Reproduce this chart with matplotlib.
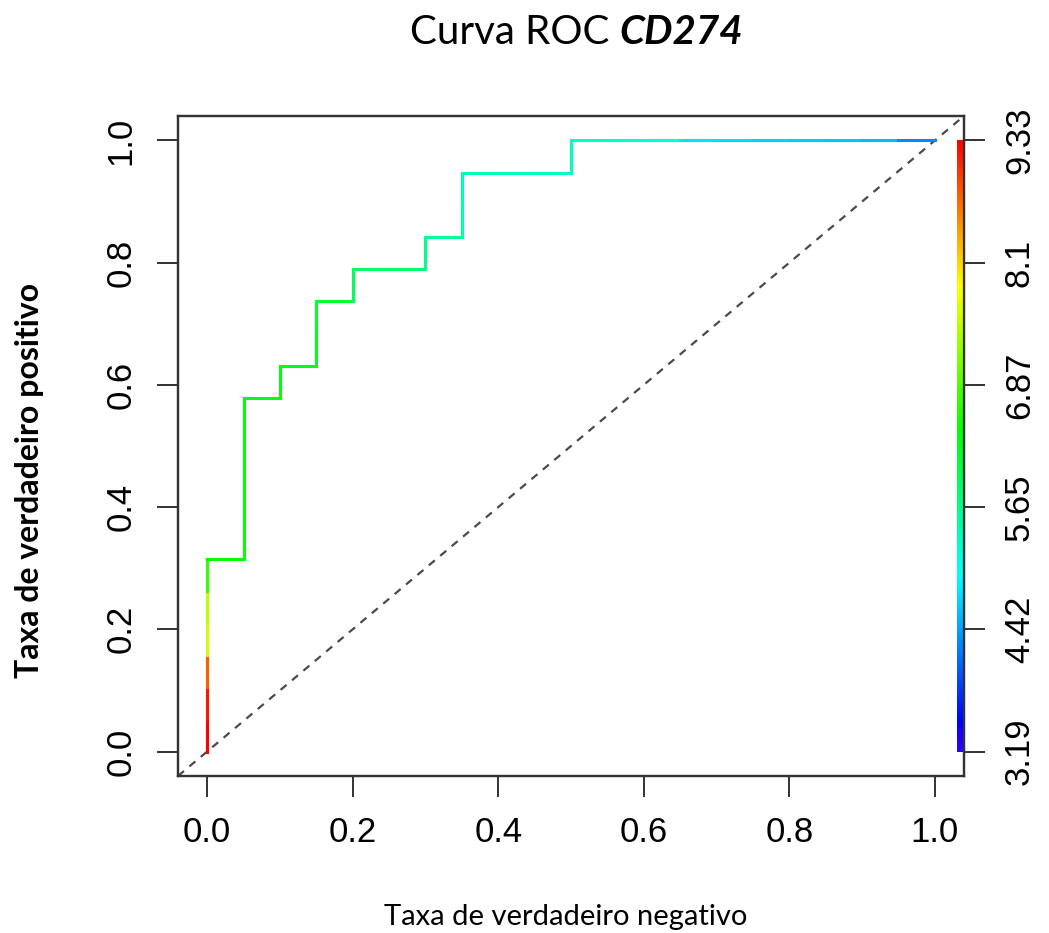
import numpy as np
import matplotlib
matplotlib.use("Agg")
import matplotlib.pyplot as plt
from matplotlib.collections import LineCollection
from matplotlib.colors import LinearSegmentedColormap, Normalize, hsv_to_rgb

# ROC curve points for CD274 (false positive rate, true positive rate)
fpr = [0.00, 0.00, 0.00, 0.00, 0.00, 0.00, 0.00,
       0.05, 0.05, 0.05, 0.05, 0.05, 0.05,
       0.10, 0.10,
       0.15, 0.15, 0.15,
       0.20, 0.20,
       0.25, 0.30, 0.30,
       0.35, 0.35, 0.35,
       0.40, 0.45, 0.50, 0.50,
       0.55, 0.60, 0.65, 0.70, 0.75, 0.80, 0.85, 0.90, 0.95, 1.00]
tpr_counts = [0, 1, 2, 3, 4, 5, 6,
              6, 7, 8, 9, 10, 11,
              11, 12,
              12, 13, 14,
              14, 15,
              15, 15, 16,
              16, 17, 18,
              18, 18, 18, 19,
              19, 19, 19, 19, 19, 19, 19, 19, 19, 19]
n_positive = 19

# Expression cutoff reached at each point of the curve
cutoff = [9.33, 9.33, 9.20, 8.80, 7.60, 7.50, 6.70,
          6.45, 6.43, 6.41, 6.39, 6.37, 6.35,
          6.33, 6.31,
          6.30, 6.25, 6.20,
          6.10, 5.90,
          5.85, 5.80, 5.60,
          5.55, 5.45, 5.40,
          5.35, 5.32, 5.30, 5.30,
          5.28, 5.25, 5.20, 4.78, 4.74, 4.70, 4.66, 4.62, 4.58, 4.25]

# Colour key range and labels
cut_min, cut_max = 3.19, 9.33
key_labels = ["3.19", "4.42", "5.65", "6.87", "8.1", "9.33"]

tpr = [c / n_positive for c in tpr_counts]

# Rainbow palette running from red (high cutoff) to blue-violet (low cutoff)
hues = np.linspace(0.70, 0.0, 256)
rgb = hsv_to_rgb(np.column_stack([hues, np.ones(256), np.ones(256)]))
palette = LinearSegmentedColormap.from_list("roc_rainbow", rgb)
norm = Normalize(cut_min, cut_max)

W, H = 1049, 933
fig = plt.figure(figsize=(W / 100, H / 100), dpi=100)
ax = fig.add_axes([178 / W, 1 - 776 / H, (964 - 178) / W, (776 - 116) / H])
ax.set_xlim(-0.04, 1.04)
ax.set_ylim(-0.04, 1.04)

# Chance diagonal
ax.plot([-0.04, 1.04], [-0.04, 1.04], color="#4a4a4a", lw=1.6,
        linestyle=(0, (3.5, 3.2)), zorder=2)

# Colour-coded ROC steps
pts = np.column_stack([fpr, tpr])
segs = np.stack([pts[:-1], pts[1:]], axis=1)
seg_colors = palette(norm(np.array(cutoff[1:])))
lc = LineCollection(segs, colors=seg_colors, linewidths=2.2, zorder=3,
                    capstyle="projecting")
ax.add_collection(lc)

# Colour key strip along the right edge
grad = np.linspace(cut_min, cut_max, 256).reshape(-1, 1)
ax.imshow(grad, cmap=palette, norm=norm, origin="lower", aspect="auto",
          extent=[1.031, 1.040, 0.0, 1.0], zorder=4)
ax.set_xlim(-0.04, 1.04)
ax.set_ylim(-0.04, 1.04)

tick_font = dict(family="Liberation Sans", size=25)
ticks = [0.0, 0.2, 0.4, 0.6, 0.8, 1.0]
ax.set_xticks(ticks)
ax.set_xticklabels([f"{t:.1f}" for t in ticks], **tick_font)
ax.set_yticks(ticks)
ax.set_yticklabels([f"{t:.1f}" for t in ticks], rotation=90, va="center",
                   **tick_font)
ax.tick_params(axis="both", direction="out", length=15, width=1.3,
               color="#222222", pad=14)

ax2 = ax.twinx()
ax2.set_ylim(-0.04, 1.04)
ax2.set_yticks(np.linspace(0, 1, len(key_labels)))
ax2.set_yticklabels(key_labels, rotation=90, va="center", **tick_font)
ax2.tick_params(axis="y", direction="out", length=15, width=1.3,
                color="#222222", pad=13)

for a in (ax, ax2):
    for s in a.spines.values():
        s.set_color("#333333")
        s.set_linewidth(1.6)

# Axis titles
fig.text(566 / W, 1 - 917 / H, "Taxa de verdadeiro negativo", ha="center",
         va="center", family="Lato", fontsize=21)
fig.text(30 / W, 1 - 480 / H, "Taxa de verdadeiro positivo", ha="center",
         va="center", rotation=90, family="Lato", fontsize=23,
         fontweight="bold")

# Title with italic bold gene symbol
t1 = fig.text(410 / W, 1 - 32 / H, "Curva ROC ", ha="left", va="center",
              family="Lato", fontsize=29)
ax.annotate("CD274", xy=(1, 0), xycoords=t1, ha="left", va="bottom",
            family="Lato", fontsize=29, fontweight="bold", style="italic",
            annotation_clip=False)

fig.savefig("out.png", dpi=100, facecolor="white")
